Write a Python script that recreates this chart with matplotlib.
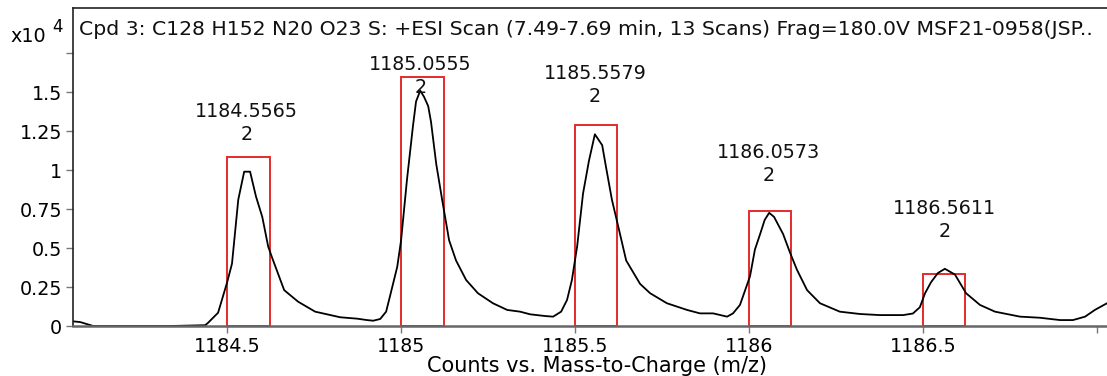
import numpy as np
import matplotlib.pyplot as plt
from matplotlib.patches import Rectangle

plt.rcParams['font.family'] = ['DejaVu Sans']

# spectrum trace (m/z, counts x10^4)
mz = [1184.057, 1184.078, 1184.115, 1184.336, 1184.437, 1184.445, 1184.474,
      1184.500, 1184.514, 1184.532, 1184.549, 1184.566, 1184.583, 1184.601,
      1184.618, 1184.629, 1184.664, 1184.704, 1184.753, 1184.825, 1184.874,
      1184.902, 1184.920, 1184.940, 1184.957, 1184.968, 1184.989, 1185.000,
      1185.017, 1185.034, 1185.043, 1185.055, 1185.066, 1185.078, 1185.086,
      1185.101, 1185.118, 1185.138, 1185.158, 1185.187, 1185.221, 1185.264,
      1185.305, 1185.342, 1185.371, 1185.414, 1185.437, 1185.460, 1185.477,
      1185.491, 1185.506, 1185.523, 1185.540, 1185.557, 1185.578, 1185.589,
      1185.606, 1185.624, 1185.647, 1185.687, 1185.716, 1185.764, 1185.822,
      1185.859, 1185.897, 1185.937, 1185.954, 1185.974, 1185.989, 1186.003,
      1186.017, 1186.032, 1186.045, 1186.058, 1186.072, 1186.098, 1186.118,
      1186.138, 1186.167, 1186.204, 1186.261, 1186.319, 1186.376, 1186.443,
      1186.471, 1186.491, 1186.506, 1186.523, 1186.543, 1186.563, 1186.592,
      1186.624, 1186.664, 1186.707, 1186.779, 1186.836, 1186.894, 1186.931,
      1186.966, 1186.994, 1187.029]
counts = [0.03, 0.025, 0.0, 0.0, 0.005, 0.02, 0.085,
          0.28, 0.40, 0.81, 0.99, 0.99, 0.83, 0.70,
          0.51, 0.44, 0.23, 0.156, 0.092, 0.056, 0.047,
          0.038, 0.034, 0.045, 0.092, 0.19, 0.38, 0.55,
          0.94, 1.28, 1.44, 1.51, 1.47, 1.41, 1.31,
          1.04, 0.81, 0.55, 0.42, 0.295, 0.21, 0.146,
          0.103, 0.092, 0.075, 0.064, 0.06, 0.092, 0.167,
          0.295, 0.51, 0.85, 1.06, 1.23, 1.16, 1.02,
          0.81, 0.64, 0.42, 0.27, 0.21, 0.146, 0.103,
          0.081, 0.081, 0.06, 0.081, 0.135, 0.23, 0.32,
          0.49, 0.59, 0.68, 0.726, 0.70, 0.59, 0.47,
          0.36, 0.23, 0.146, 0.092, 0.077, 0.07, 0.07,
          0.08, 0.12, 0.21, 0.28, 0.34, 0.367, 0.33,
          0.21, 0.135, 0.092, 0.06, 0.053, 0.038, 0.038,
          0.06, 0.103, 0.146]

# labelled peaks
peak_mz = [1184.5565, 1185.0555, 1185.5579, 1186.0573, 1186.5611]
peak_h = [0.99, 1.51, 1.23, 0.726, 0.367]
peak_z = [2, 2, 2, 2, 2]

# predicted isotope boxes (left edge, height)
box_x = [1184.5, 1185.0, 1185.5, 1186.0, 1186.5]
box_h = [1.083, 1.596, 1.29, 0.735, 0.333]
box_w = 0.122

fs = 13.8

fig = plt.figure(figsize=(11.07, 3.76), dpi=100)
ax = fig.add_axes([73 / 1107, 1 - 326 / 376, 1 - 73 / 1107, 318 / 376])

ax.plot(mz, counts, color='black', lw=1.3)

for x0, h in zip(box_x, box_h):
    ax.add_patch(Rectangle((x0, 0), box_w, h, fill=False, edgecolor='#e52b2b', lw=1.4))

label_y = np.minimum(np.array(peak_h) + 0.18, 1.47)
for x, y, z in zip(peak_mz, label_y, peak_z):
    ax.text(x, y, f'{x:.4f}\n{z}', ha='center', va='bottom', fontsize=fs,
            linespacing=1.25, color='#111111')

ax.set_xlim(1184.057, 1187.029)
ax.set_ylim(0, 2.04)
ax.set_xticks([1184.5, 1185, 1185.5, 1186, 1186.5, 1187])
ax.set_xticklabels(['1184.5', '1185', '1185.5', '1186', '1186.5', ''])
ax.set_yticks([0, 0.25, 0.5, 0.75, 1, 1.25, 1.5, 1.75])
ax.set_yticklabels(['0', '0.25', '0.5', '0.75', '1', '1.25', '1.5', ''])
ax.tick_params(labelsize=fs, color='#777777', length=5, width=1, pad=3)

for side in ['left', 'top']:
    ax.spines[side].set_color('#222222')
    ax.spines[side].set_linewidth(1.2)
ax.spines['bottom'].set_color('#666666')
ax.spines['bottom'].set_linewidth(1.8)
ax.spines['right'].set_visible(False)

ax.text(0.0062, 0.933, 'Cpd 3: C128 H152 N20 O23 S: +ESI Scan (7.49-7.69 min, 13 Scans) '
        'Frag=180.0V MSF21-0958(JSP..', transform=ax.transAxes, ha='left', va='center',
        fontsize=14.7, color='#111111')

fig.text(10 / 1107, 1 - 36 / 376, 'x10', ha='left', va='center', fontsize=fs)
fig.text(52 / 1107, 1 - 27 / 376, '4', ha='left', va='center', fontsize=12)
fig.text(597 / 1107, 1 - 366 / 376, 'Counts vs. Mass-to-Charge (m/z)', ha='center',
         va='center', fontsize=15)

fig.savefig('out.png', dpi=100)
